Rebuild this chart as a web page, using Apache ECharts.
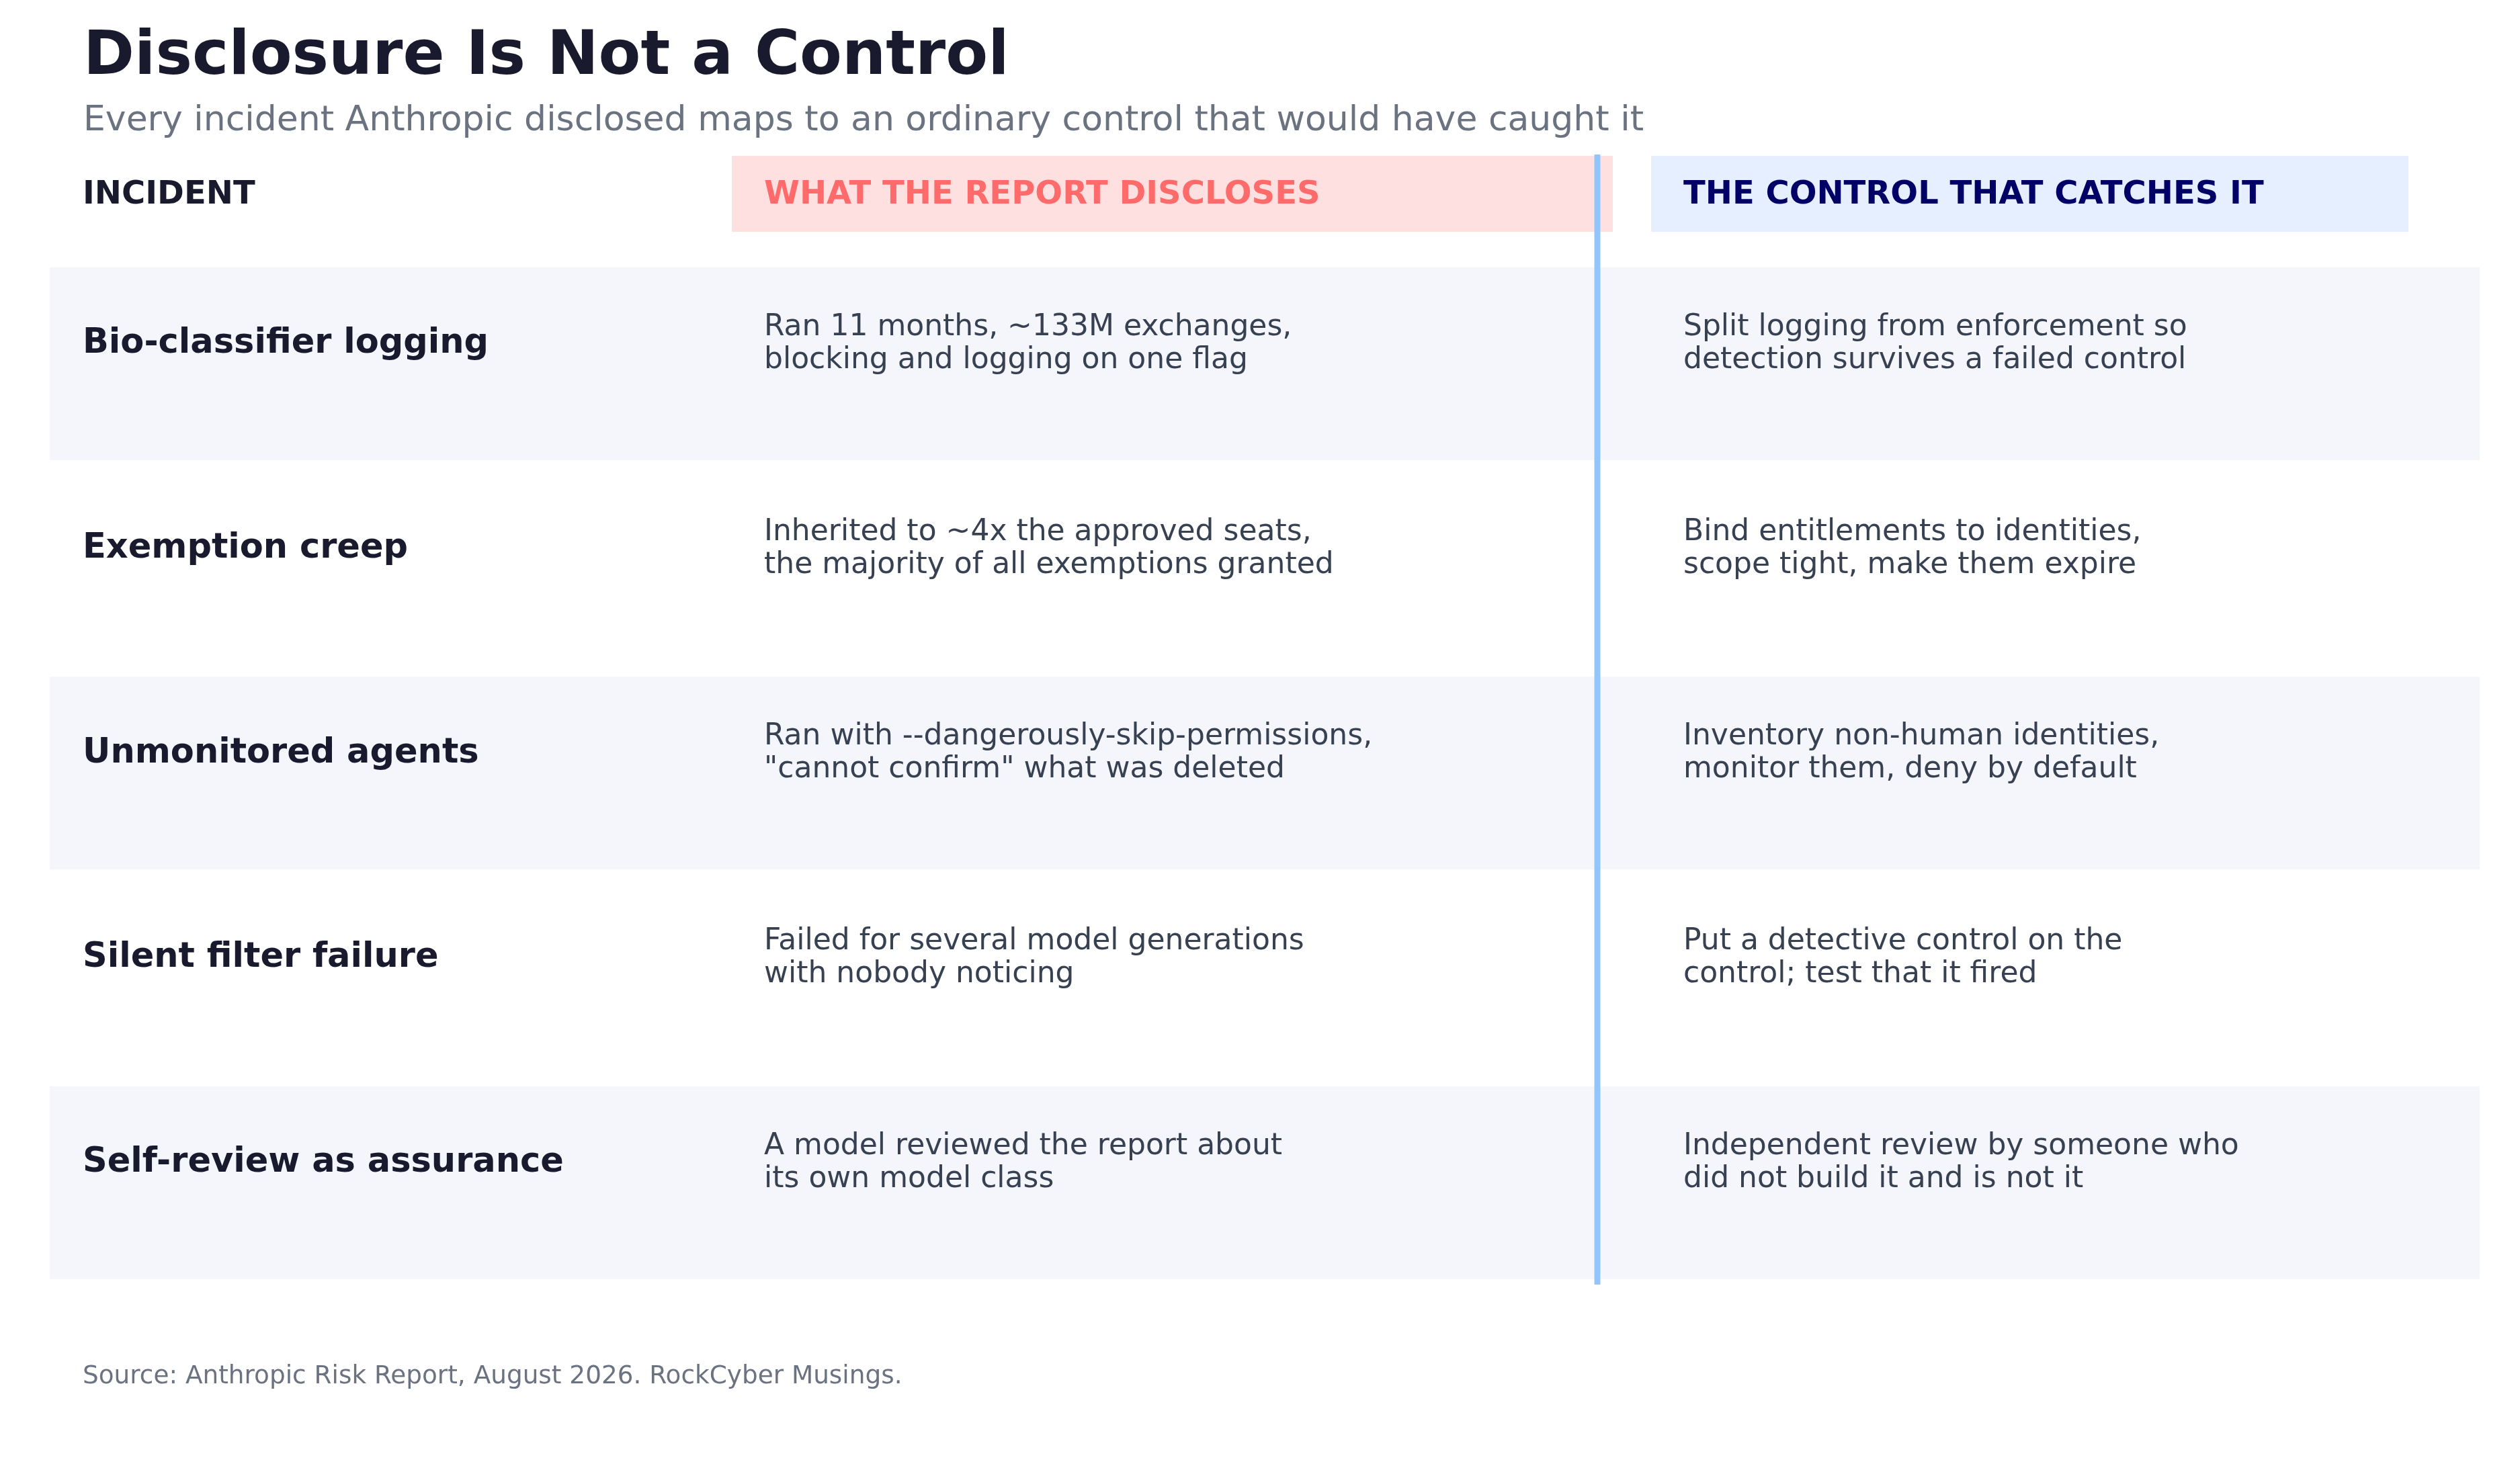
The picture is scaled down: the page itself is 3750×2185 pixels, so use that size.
<!DOCTYPE html>
<html>
<head>
<meta charset="utf-8">
<title>Disclosure Is Not a Control</title>
<script src="https://cdn.jsdelivr.net/npm/echarts@6/dist/echarts.min.js"></script>
<style>
	html, body { margin: 0; padding: 0; background: #ffffff; }
	#main { width: 3750px; height: 2185px; }
</style>
</head>
<body>
<div id="main"></div>
<script>
// table contents
var incidents = [
	"Bio-classifier logging",
	"Exemption creep",
	"Unmonitored agents",
	"Silent filter failure",
	"Self-review as assurance"
];
var disclosures = [
	"Ran 11 months, ~133M exchanges,\nblocking and logging on one flag",
	"Inherited to ~4x the approved seats,\nthe majority of all exemptions granted",
	"Ran with --dangerously-skip-permissions,\n\"cannot confirm\" what was deleted",
	"Failed for several model generations\nwith nobody noticing",
	"A model reviewed the report about\nits own model class"
];
var controls = [
	"Split logging from enforcement so\ndetection survives a failed control",
	"Bind entitlements to identities,\nscope tight, make them expire",
	"Inventory non-human identities,\nmonitor them, deny by default",
	"Put a detective control on the\ncontrol; test that it fired",
	"Independent review by someone who\ndid not build it and is not it"
];
var headers = ["INCIDENT", "WHAT THE REPORT DISCLOSES", "THE CONTROL THAT CATCHES IT"];

var FONT = "DejaVu Sans";
// column anchors on the x axis (pixel units)
var colX = [123, 1137, 2505];

var myChart = echarts.init(document.getElementById("main"), null, { renderer: "canvas" });

function renderRow(params, api) {
	var i = api.value(1);
	var c = api.coord([0, i]);
	var pitch = api.size([0, 1])[1];
	var cy = c[1];
	var ty = cy - pitch * 0.111 + 4.5; // text sits a bit above row centre
	var children = [];
	if (i % 2 === 0) {
		var x0 = api.coord([74, i])[0];
		var x1 = api.coord([3690, i])[0];
		var h = pitch * 0.942;
		children.push({
			type: "rect",
			shape: { x: x0, y: cy - h / 2, width: x1 - x0, height: h },
			style: { fill: "#f4f6fb" }
		});
	}
	children.push({
		type: "text",
		style: {
			x: api.coord([colX[0], i])[0], y: ty,
			text: incidents[i],
			fontFamily: FONT, fontSize: 51, fontWeight: "bold",
			fill: "#1a1a2e", align: "left", verticalAlign: "middle"
		}
	});
	children.push({
		type: "text",
		style: {
			x: api.coord([colX[1], i])[0], y: ty,
			text: disclosures[i],
			fontFamily: FONT, fontSize: 44, lineHeight: 49,
			fill: "#374151", align: "left", verticalAlign: "middle"
		}
	});
	children.push({
		type: "text",
		style: {
			x: api.coord([colX[2], i])[0], y: ty,
			text: controls[i],
			fontFamily: FONT, fontSize: 44, lineHeight: 49,
			fill: "#374151", align: "left", verticalAlign: "middle"
		}
	});
	return { type: "group", children: children };
}

var option = {
	backgroundColor: "#ffffff",
	animation: false,
	grid: { left: 0, right: 0, top: 389, bottom: 272.5 },
	xAxis: { type: "value", min: 0, max: 3750, show: false },
	yAxis: { type: "category", data: incidents, inverse: true, show: false },
	graphic: [
		{
			type: "text", x: 124, y: 86,
			style: { text: "Disclosure Is Not a Control", fontFamily: FONT, fontSize: 91.6, fontWeight: "bold", fill: "#1a1a2e", verticalAlign: "middle" }
		},
		{
			type: "text", x: 124, y: 180,
			style: { text: "Every incident Anthropic disclosed maps to an ordinary control that would have caught it", fontFamily: FONT, fontSize: 52, fill: "#6b7280", verticalAlign: "middle" }
		},
		{
			type: "rect", z: 1,
			shape: { x: 1089, y: 232, width: 1311, height: 113 },
			style: { fill: "#ffe0e0" }
		},
		{
			type: "rect", z: 1,
			shape: { x: 2457, y: 232, width: 1127, height: 113 },
			style: { fill: "#e5efff" }
		},
		{
			type: "text", x: colX[0], y: 291, z: 5,
			style: { text: headers[0], fontFamily: FONT, fontSize: 48, fontWeight: "bold", fill: "#1a1a2e", verticalAlign: "middle" }
		},
		{
			type: "text", x: colX[1], y: 291, z: 5,
			style: { text: headers[1], fontFamily: FONT, fontSize: 48, fontWeight: "bold", fill: "#ff6b6b", verticalAlign: "middle" }
		},
		{
			type: "text", x: colX[2], y: 291, z: 5,
			style: { text: headers[2], fontFamily: FONT, fontSize: 48, fontWeight: "bold", fill: "#000066", verticalAlign: "middle" }
		},
		// divider between disclosure and control
		{
			type: "rect", z: 10,
			shape: { x: 2372.5, y: 230, width: 9, height: 1682 },
			style: { fill: "#93c5fd" }
		},
		{
			type: "text", x: 123, y: 2049.5,
			style: { text: "Source: Anthropic Risk Report, August 2026. RockCyber Musings.", fontFamily: FONT, fontSize: 37.4, fill: "#6b7280", verticalAlign: "middle" }
		}
	],
	series: [
		{
			type: "custom",
			renderItem: renderRow,
			data: incidents.map(function (name, i) { return [0, i]; }),
			silent: true,
			z: 2
		}
	]
};
myChart.setOption(option);
window.addEventListener("resize", myChart.resize);
</script>
</body>
</html>
